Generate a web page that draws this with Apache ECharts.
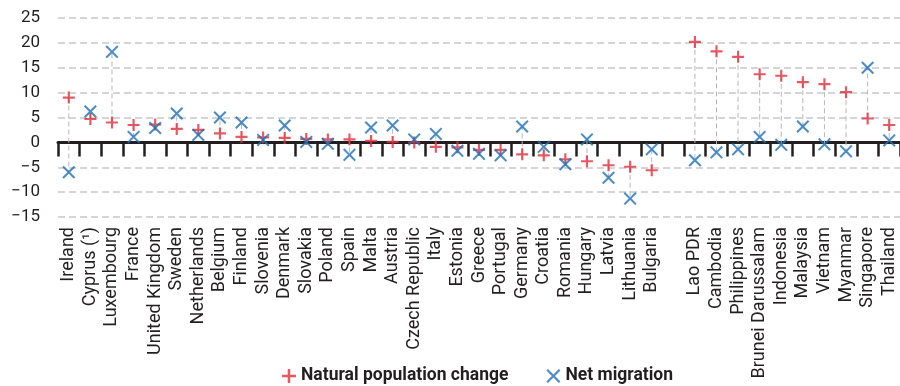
<!DOCTYPE html>
<html>
<head>
<meta charset="utf-8">
<script src="https://cdn.jsdelivr.net/npm/echarts@6/dist/echarts.min.js"></script>
<style>
  html, body { margin: 0; padding: 0; background: #fff; }
  #chart { width: 900px; height: 386px; }
</style>
</head>
<body>
<div id="chart"></div>
<script>
// categories: EU countries, an empty slot, then ASEAN countries
var categories = [
  "Ireland", "Cyprus (¹)", "Luxembourg", "France", "United Kingdom", "Sweden",
  "Netherlands", "Belgium", "Finland", "Slovenia", "Denmark", "Slovakia",
  "Poland", "Spain", "Malta", "Austria", "Czech Republic", "Italy", "Estonia",
  "Greece", "Portugal", "Germany", "Croatia", "Romania", "Hungary", "Latvia",
  "Lithuania", "Bulgaria", "",
  "Lao PDR", "Cambodia", "Philippines", "Brunei Darussalam", "Indonesia",
  "Malaysia", "Vietnam", "Myanmar", "Singapore", "Thailand"
];

var naturalChange = [
  9.0, 4.7, 4.0, 3.5, 3.6, 2.7, 2.5, 1.8, 1.1, 1.0,
  0.9, 0.7, 0.6, 0.6, 0.3, 0.1, 0.0, -0.9, -1.0, -1.5,
  -1.5, -2.4, -2.6, -3.4, -3.8, -4.6, -4.9, -5.6, null,
  20.2, 18.3, 17.2, 13.7, 13.4, 12.1, 11.7, 10.1, 4.8, 3.5
];

var netMigration = [
  -6.0, 6.2, 18.2, 1.1, 2.9, 5.8, 1.5, 5.0, 4.0, 0.5,
  3.4, 0.1, -0.3, -2.5, 3.0, 3.4, 0.6, 1.7, -1.7, -2.3,
  -2.6, 3.2, -0.9, -4.4, 0.6, -7.1, -11.3, -1.4, null,
  -3.6, -2.0, -1.4, 1.1, -0.5, 3.2, -0.4, -1.8, 15.0, 0.4
];

var yMin = -15, yMax = 25, yStep = 5;

var textColor = "#231f20";
var red = "#e0303c";
var blue = "#1f6fb8";
var fontFamily = "Roboto, 'Noto Sans', sans-serif";

// symbols
var plusPath = "path://M4.1,0H5.9V4.1H10V5.9H5.9V10H4.1V5.9H0V4.1H4.1Z";
var crossPath = "path://M0,1.1L1.1,0L5,3.9L8.9,0L10,1.1L6.1,5L10,8.9L8.9,10L5,6.1L1.1,10L0,8.9L3.9,5Z";

// connector rows [index, natural, migration]
var pairs = [];
categories.forEach(function (c, i) {
  if (naturalChange[i] != null && netMigration[i] != null) {
    pairs.push([i, naturalChange[i], netMigration[i]]);
  }
});

var chart = echarts.init(document.getElementById("chart"));

chart.setOption({
  animation: false,
  textStyle: { fontFamily: fontFamily, color: textColor },
  grid: { left: 58, right: 0, top: 18, bottom: 169, containLabel: false },
  legend: {
    left: 277,
    top: 362,
    itemWidth: 14,
    itemHeight: 14,
    itemGap: 38,
    textStyle: { fontSize: 17.5, fontWeight: "bold", color: textColor, fontFamily: fontFamily },
    data: [
      { name: "Natural population change", icon: plusPath },
      { name: "Net migration", icon: crossPath }
    ]
  },
  xAxis: [
    {
      // labels at the bottom of the grid
      type: "category",
      data: categories,
      position: "bottom",
      axisLine: { show: false, onZero: false },
      axisTick: { show: false },
      splitLine: { show: false },
      axisLabel: {
        interval: 0,
        rotate: 90,
        margin: 10,
        fontSize: 18,
        color: textColor
      }
    },
    {
      // thick zero line with ticks between categories
      type: "category",
      data: categories,
      position: "bottom",
      axisLine: { show: true, onZero: true, lineStyle: { color: textColor, width: 3 } },
      axisTick: { show: true, interval: 0, length: 14, lineStyle: { color: textColor, width: 2.5 } },
      axisLabel: { show: false },
      splitLine: { show: false }
    }
  ],
  yAxis: {
    type: "value",
    min: yMin,
    max: yMax,
    interval: yStep,
    axisLine: { show: false },
    axisTick: { show: false },
    axisLabel: {
      margin: 18,
      fontSize: 17,
      color: textColor,
      formatter: function (v) { return String(v).replace("-", "\u2212"); }
    },
    splitLine: { lineStyle: { color: "#c8c8c8", width: 1.5, type: [7, 4] } }
  },
  series: [
    {
      name: "connectors",
      type: "custom",
      xAxisIndex: 0,
      z: 1,
      silent: true,
      data: pairs,
      renderItem: function (params, api) {
        var p1 = api.coord([api.value(0), api.value(1)]);
        var p2 = api.coord([api.value(0), api.value(2)]);
        return {
          type: "line",
          shape: { x1: p1[0], y1: p1[1], x2: p2[0], y2: p2[1] },
          style: { stroke: "#b8b8b8", lineWidth: 1, lineDash: [5, 3] }
        };
      }
    },
    {
      name: "Natural population change",
      type: "scatter",
      xAxisIndex: 0,
      z: 3,
      symbol: plusPath,
      symbolSize: 12,
      itemStyle: { color: red },
      data: naturalChange
    },
    {
      name: "Net migration",
      type: "scatter",
      xAxisIndex: 0,
      z: 4,
      symbol: crossPath,
      symbolSize: 13,
      itemStyle: { color: blue },
      data: netMigration
    }
  ]
});
</script>
</body>
</html>
